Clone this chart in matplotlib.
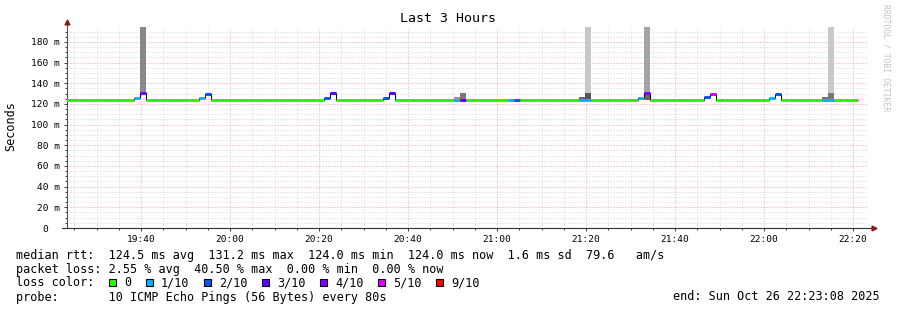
import numpy as np
import matplotlib.pyplot as plt
from matplotlib.patches import Rectangle

plt.rcParams["font.family"] = ["DejaVu Sans Mono", "DejaVu Sans"]

W, H = 897, 310

# 80 s ping rounds, time in minutes after 19:00
first_sample = 22.4167
step = 80 / 60
n_samples = 134
baseline_rtt = 124.0

# rounds that differ from the flat 124 ms median
event_idx = [12, 13, 23, 24, 44, 45, 54, 55, 66, 67, 75, 76,
             87, 88, 97, 98, 108, 109, 119, 120, 128, 129]
event_rtt = [125.5, 130.5, 126, 129.5, 126, 130.5, 126, 130.5, 124, 124, 124, 124,
             124, 124, 126, 130.5, 127, 130, 126, 130, 124, 124]
event_loss = [1, 4, 1, 2, 2, 3, 2, 3, 1, 3, 1, 2,
              1, 1, 1, 4, 2, 5, 1, 2, 1, 1]

# smoke (spread of the individual pings)
smoke_idx = [13, 66, 67, 87, 88, 88, 98, 98, 128, 129, 129]
smoke_lo = [130.5, 124, 124, 124, 124, 131, 124, 130.5, 124, 124, 131]
smoke_hi = [260, 127, 131, 126.5, 131, 260, 130.5, 260, 126.5, 131, 260]
smoke_grey = ["#888888", "#999999", "#7a7a7a", "#666666", "#555555", "#c8c8c8",
              "#666666", "#a4a4a4", "#777777", "#777777", "#c8c8c8"]

loss_levels = [0, 1, 2, 3, 4, 5, 9]
loss_labels = ["0", "1/10", "2/10", "3/10", "4/10", "5/10", "9/10"]
loss_colors = ["#26ff00", "#00b8ff", "#0059ff", "#5e00ff", "#7e00ff", "#dd00ff", "#ff0000"]

y_ticks = [0, 20, 40, 60, 80, 100, 120, 140, 160, 180]
y_labels = ["0  ", "20 m", "40 m", "60 m", "80 m", "100 m", "120 m", "140 m", "160 m", "180 m"]
x_ticks = [40, 60, 80, 100, 120, 140, 160, 180, 200]
x_labels = ["19:40", "20:00", "20:20", "20:40", "21:00", "21:20", "21:40", "22:00", "22:20"]

stats_rtt = "median rtt:  124.5 ms avg  131.2 ms max  124.0 ms min  124.0 ms now  1.6 ms sd  79.6   am/s"
stats_loss = "packet loss: 2.55 % avg  40.50 % max  0.00 % min  0.00 % now"
probe_text = "probe:       10 ICMP Echo Pings (56 Bytes) every 80s"
end_text = "end: Sun Oct 26 22:23:08 2025"

rtt = np.full(n_samples, baseline_rtt)
loss = np.zeros(n_samples, dtype=int)
rtt[event_idx] = event_rtt
loss[event_idx] = event_loss
edges = first_sample + step * np.arange(n_samples + 1)
color_of = dict(zip(loss_levels, loss_colors))

fig = plt.figure(figsize=(W / 100, H / 100), dpi=100)
ax = fig.add_axes([67 / W, 82 / H, 801 / W, 201 / H])
ax.set_xlim(23.35, 203.35)
ax.set_ylim(0, 194.5)

# grid
ax.set_xticks(x_ticks)
ax.set_xticklabels(x_labels)
ax.set_xticks(np.arange(25, 205, 5), minor=True)
ax.set_yticks(y_ticks)
ax.set_yticklabels(y_labels)
ax.set_yticks(np.arange(0, 195, 5), minor=True)
ax.grid(which="minor", color="#d6d6d6", ls=(0, (1, 2)), lw=0.72)
ax.grid(which="major", color="#f0a0a0", ls=(0, (1, 2)), lw=0.72)
ax.set_axisbelow(True)
ax.tick_params(which="both", direction="out", length=2, width=0.7,
               color="#404040", labelsize=6.8, pad=3)
ax.tick_params(which="minor", length=1.5)
for s in ax.spines.values():
    s.set_visible(False)

# smoke
si = np.array(smoke_idx)
ax.bar(edges[si], np.array(smoke_hi) - np.array(smoke_lo), width=step,
       bottom=smoke_lo, align="edge", color=smoke_grey, lw=0, zorder=2)

# median: thin black step, coloured by loss on top
ax.stairs(rtt, edges, baseline=None, color="black", lw=0.75, zorder=3)
ax.hlines(rtt, edges[:-1], edges[1:], colors=[color_of[l] for l in loss],
          lw=2.2, zorder=4)

# axes with arrows
ax.plot([0, 0], [0, 1.02], color="#505050", lw=0.8, transform=ax.transAxes, clip_on=False)
ax.plot([-0.006, 1.005], [0, 0], color="#303030", lw=0.8, transform=ax.transAxes, clip_on=False)
ax.plot([0], [1.025], marker="^", ms=3.5, color="#8b1a1a", transform=ax.transAxes, clip_on=False)
ax.plot([1.007], [0], marker=">", ms=3.5, color="#8b1a1a", transform=ax.transAxes, clip_on=False)

fig.text(448 / W, 1 - 19 / H, "Last 3 Hours", ha="center", va="center", fontsize=9.5)
fig.text(11 / W, 1 - 126 / H, "Seconds", rotation=90, ha="center", va="center", fontsize=8.5)
fig.text(886 / W, 1 - 4 / H, "RRDTOOL / TOBI OETIKER", rotation=270, ha="center", va="top",
         fontsize=5.9, color="#c4c4c4")

fs = 8.5
fig.text(16 / W, 1 - 255 / H, stats_rtt, ha="left", va="center", fontsize=fs)
fig.text(16 / W, 1 - 269 / H, stats_loss, ha="left", va="center", fontsize=fs)
fig.text(16 / W, 1 - 283 / H, "loss color:", ha="left", va="center", fontsize=fs)
fig.text(16 / W, 1 - 297 / H, probe_text, ha="left", va="center", fontsize=fs)
fig.text(880 / W, 1 - 297 / H, end_text, ha="right", va="center", fontsize=fs)

bx = 108.5
for lab, col in zip(loss_labels, loss_colors):
    fig.add_artist(Rectangle((bx / W, 1 - 286 / H), 7 / W, 7 / H, transform=fig.transFigure,
                             facecolor=col, edgecolor="black", lw=0.8))
    fig.text((bx + 15.5) / W, 1 - 283 / H, lab, ha="left", va="center", fontsize=fs)
    bx += 15.5 + len(lab) * 7 + 14.5

fig.savefig("out.png", dpi=100)
